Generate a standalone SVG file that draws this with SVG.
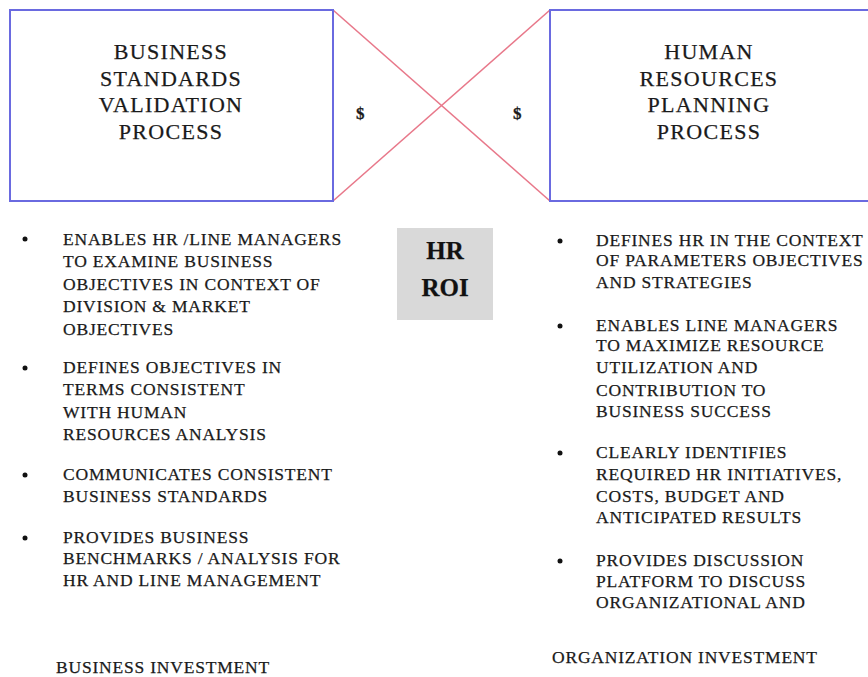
<svg xmlns="http://www.w3.org/2000/svg" width="868" height="677" viewBox="0 0 868 677">
<style>
.box{fill:#ffffff;stroke:#6a6ae0;stroke-width:2}
.conn{stroke:#e8788a;stroke-width:1.6;fill:none}
.t{font-family:"Liberation Serif","Times New Roman",serif;fill:#1a1a1a;stroke:#1a1a1a;stroke-width:0.25}
.title{font-size:22px;letter-spacing:1.3px;text-anchor:middle}
.b{font-size:17.5px;letter-spacing:0.8px}
.dot{fill:#111}
.roi{fill:#d9d9d9}
.roit{font-size:25px;text-anchor:middle;font-weight:bold;fill:#111}
.d{font-size:17px;font-weight:bold}
</style>
<rect width="868" height="677" fill="#ffffff"/>
<g id="connectors">
  <line class="conn" x1="333" y1="10" x2="550" y2="201"/>
  <line class="conn" x1="333" y1="201" x2="550" y2="10"/>
  <text class="t d" x="356" y="119">$</text>
  <text class="t d" x="513" y="119">$</text>
</g>
<g id="business-standards">
  <rect class="box" x="10" y="10" width="323" height="191"/>
  <text class="t title" x="171" y="59">BUSINESS</text>
  <text class="t title" x="171" y="86">STANDARDS</text>
  <text class="t title" x="171" y="112">VALIDATION</text>
  <text class="t title" x="171" y="139">PROCESS</text>
</g>
<g id="hr-planning">
  <rect class="box" x="550" y="10" width="330" height="191"/>
  <text class="t title" x="709" y="59">HUMAN</text>
  <text class="t title" x="709" y="86">RESOURCES</text>
  <text class="t title" x="709" y="112">PLANNING</text>
  <text class="t title" x="709" y="139">PROCESS</text>
</g>
<g id="hr-roi">
  <rect class="roi" x="397" y="228" width="96" height="92"/>
  <text class="t roit" x="445" y="259">HR</text>
  <text class="t roit" x="445" y="296">ROI</text>
</g>
<g id="left-list">
  <circle class="dot" cx="25" cy="239" r="2.5"/>
  <text class="t b" x="63" y="245">ENABLES HR /LINE MANAGERS</text>
  <text class="t b" x="63" y="267">TO EXAMINE BUSINESS</text>
  <text class="t b" x="63" y="290">OBJECTIVES IN CONTEXT OF</text>
  <text class="t b" x="63" y="312">DIVISION &amp; MARKET</text>
  <text class="t b" x="63" y="335">OBJECTIVES</text>
  <circle class="dot" cx="25" cy="368" r="2.5"/>
  <text class="t b" x="63" y="373">DEFINES OBJECTIVES IN</text>
  <text class="t b" x="63" y="395">TERMS CONSISTENT</text>
  <text class="t b" x="63" y="418">WITH HUMAN</text>
  <text class="t b" x="63" y="440">RESOURCES ANALYSIS</text>
  <circle class="dot" cx="25" cy="475" r="2.5"/>
  <text class="t b" x="63" y="480">COMMUNICATES CONSISTENT</text>
  <text class="t b" x="63" y="502">BUSINESS STANDARDS</text>
  <circle class="dot" cx="25" cy="538" r="2.5"/>
  <text class="t b" x="63" y="543">PROVIDES BUSINESS</text>
  <text class="t b" x="63" y="564">BENCHMARKS / ANALYSIS FOR</text>
  <text class="t b" x="63" y="586">HR AND LINE MANAGEMENT</text>
</g>
<g id="right-list">
  <circle class="dot" cx="560" cy="241" r="2.5"/>
  <text class="t b" x="596" y="246">DEFINES HR IN THE CONTEXT</text>
  <text class="t b" x="596" y="266">OF  PARAMETERS OBJECTIVES</text>
  <text class="t b" x="596" y="288">AND STRATEGIES</text>
  <circle class="dot" cx="560" cy="326" r="2.5"/>
  <text class="t b" x="596" y="331">ENABLES LINE MANAGERS</text>
  <text class="t b" x="596" y="351">TO MAXIMIZE RESOURCE</text>
  <text class="t b" x="596" y="373">UTILIZATION AND</text>
  <text class="t b" x="596" y="396">CONTRIBUTION TO</text>
  <text class="t b" x="596" y="417">BUSINESS SUCCESS</text>
  <circle class="dot" cx="560" cy="453" r="2.5"/>
  <text class="t b" x="596" y="458">CLEARLY IDENTIFIES</text>
  <text class="t b" x="596" y="480">REQUIRED HR INITIATIVES,</text>
  <text class="t b" x="596" y="502">COSTS, BUDGET AND</text>
  <text class="t b" x="596" y="523">ANTICIPATED RESULTS</text>
  <circle class="dot" cx="560" cy="561" r="2.5"/>
  <text class="t b" x="596" y="566">PROVIDES DISCUSSION</text>
  <text class="t b" x="596" y="587">PLATFORM TO DISCUSS</text>
  <text class="t b" x="596" y="608">ORGANIZATIONAL AND</text>
</g>
<g id="footer-left">
  <text class="t b" x="56" y="673">BUSINESS INVESTMENT</text>
</g>
<g id="footer-right">
  <text class="t b" x="552" y="663">ORGANIZATION INVESTMENT</text>
</g>
</svg>
